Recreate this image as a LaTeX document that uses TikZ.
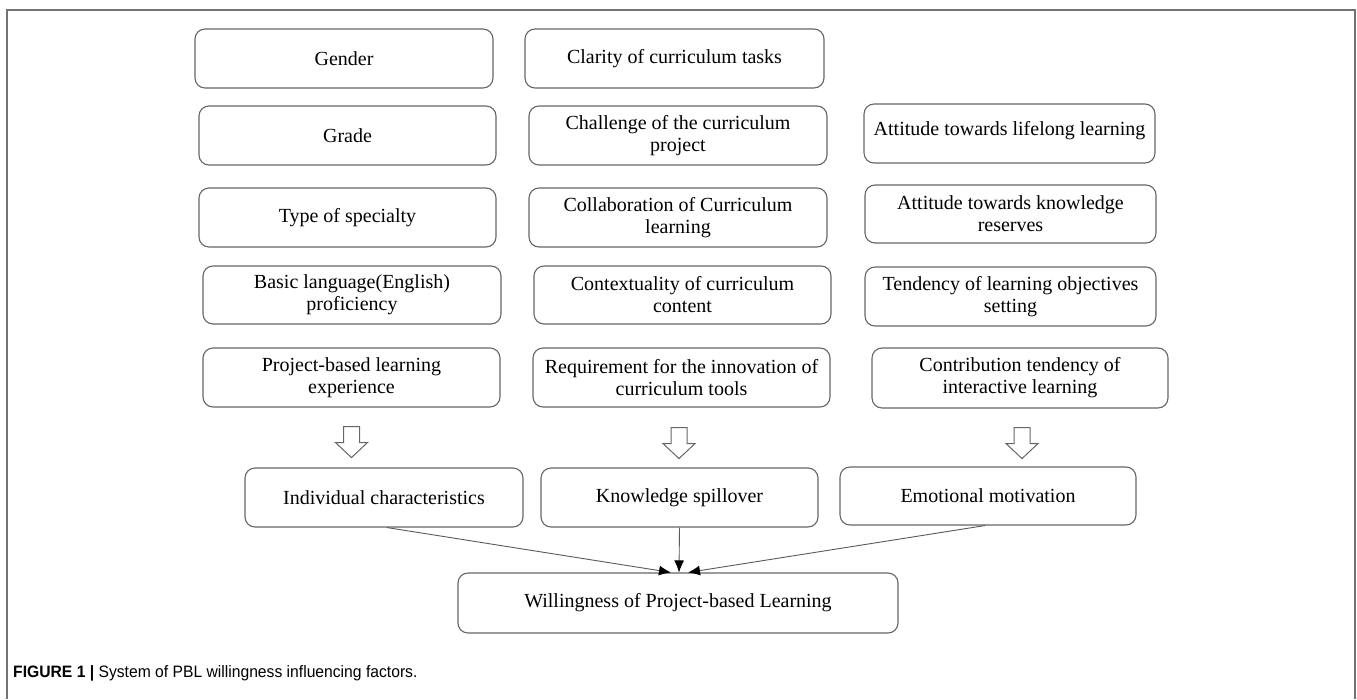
\documentclass[tikz,border=0pt]{standalone}
\usepackage{fontspec}
\setmainfont{Liberation Serif}
\newfontfamily\capfont[FakeStretch=0.95]{Liberation Sans}
\usetikzlibrary{arrows.meta}

\begin{document}
\begin{tikzpicture}[x=1pt, y=-1pt,
    factor/.style={draw=black!60, line width=1.1pt, rounded corners=10pt,
      minimum height=59pt, align=center, inner sep=2pt,
      font=\fontsize{20}{22}\selectfont},
    hollowarrow/.pic={\draw[black!60, line width=1pt] (-8,0) -- (-8,16) -- (-16,16)
      -- (0,31) -- (16,16) -- (8,16) -- (8,0) -- cycle;},
    link/.style={draw=black!65, line width=0.9pt,
      -{Latex[length=12pt,width=10pt,color=black]}}]

    \useasboundingbox (0,0) rectangle (1357,699);

    % Marco
    \draw[black!55, line width=1.4pt] (7,699) -- (7,10) -- (1355,10) -- (1355,699);

    % Factores individuales
    \node[factor, minimum width=298pt] (gender) at (344,58.5) {Gender};
    \node[factor, minimum width=297pt] (grade) at (347.5,135.5) {Grade};
    \node[factor, minimum width=297pt] (specialty) at (347.5,217.5) {Type of specialty};
    \node[factor, minimum width=298pt, minimum height=58pt] (language) at (352,295)
      {Basic language(English)\\proficiency};
    \node[factor, minimum width=297pt] (experience) at (351.5,377.5)
      {Project-based learning\\experience};

    % Factores de conocimiento
    \node[factor, minimum width=299pt] (clarity) at (674.5,58.5) {Clarity of curriculum tasks};
    \node[factor, minimum width=298pt] (challenge) at (678,135.5)
      {Challenge of the curriculum\\project};
    \node[factor, minimum width=298pt] (collaboration) at (678,217.5)
      {Collaboration of Curriculum\\learning};
    \node[factor, minimum width=297pt, minimum height=58pt] (context) at (682.5,295)
      {Contextuality of curriculum\\content};
    \node[factor, minimum width=297pt] (tools) at (681.5,377.5)
      {Requirement for the innovation of\\curriculum tools};

    % Factores emocionales
    \node[factor, minimum width=291pt] (lifelong) at (1009.5,133.5)
      {Attitude towards lifelong learning\\[-12pt]\mbox{}};
    \node[factor, minimum width=291pt, minimum height=58pt] (reserves) at (1010.5,214)
      {Attitude towards knowledge\\reserves};
    \node[factor, minimum width=291pt] (objectives) at (1010.5,296.5)
      {Tendency of learning objectives\\setting};
    \node[factor, minimum width=296pt, minimum height=60pt] (interactive) at (1020,378)
      {Contribution tendency of\\interactive learning};

    % Flechas huecas
    \pic at ([yshift=-19pt]experience.south) {hollowarrow};
    \pic at ([xshift=-2.5pt,yshift=-20pt]tools.south) {hollowarrow};
    \pic at ([xshift=2pt,yshift=-19pt]interactive.south) {hollowarrow};

    % Dimensiones
    \node[factor, minimum width=278pt] (individual) at (384,497.5) {Individual characteristics};
    \node[factor, minimum width=277pt] (spillover) at (679.5,497.5) {Knowledge spillover};
    \node[factor, minimum width=296pt, minimum height=58pt] (emotional) at (988,496)
      {Emotional motivation};

    % Resultado
    \node[factor, minimum width=440pt, minimum height=60pt] (willingness) at (678,603)
      {Willingness of Project-based Learning};

    \draw[link] ([xshift=3pt]individual.south) -- ([xshift=-7pt]willingness.north);
    \draw[link] (spillover.south) -- ([xshift=1pt]willingness.north);
    \draw[link] ([xshift=-3pt]emotional.south) -- ([xshift=10pt]willingness.north);

    % Leyenda
    \node[anchor=base west, inner sep=0pt, font=\capfont\fontsize{16.5}{18}\selectfont]
      (caption) at (13,677) {\textbf{FIGURE 1 |} System of PBL willingness influencing factors.};

\end{tikzpicture}
\end{document}
